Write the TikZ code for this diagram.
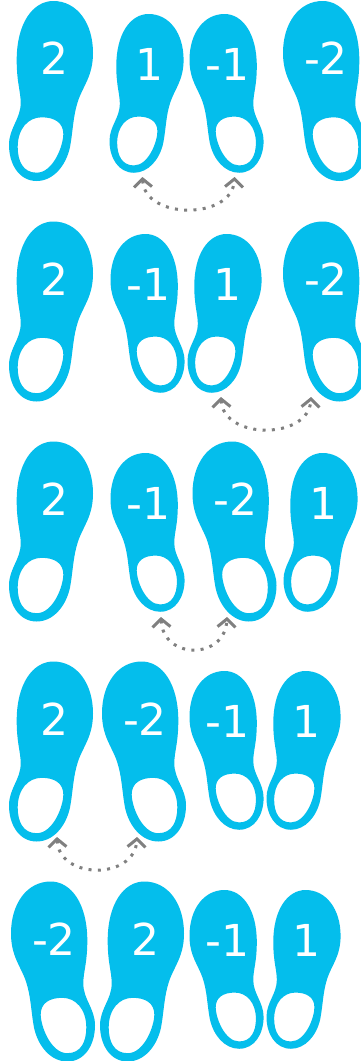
\documentclass[tikz,border=0pt]{standalone}
\usepackage{fontspec}
\setmainfont{DejaVu Sans}
\usetikzlibrary{arrows.meta}
\definecolor{shoeblue}{HTML}{04BEEC}
\definecolor{hopgray}{HTML}{808080}
\tikzset{
  shoefill/.style={fill=shoeblue,even odd rule,draw=none},
  shoelabel/.style={text=white,inner sep=0pt,font=\fontsize{44}{50}\selectfont},
  hop/.style={draw=hopgray,line width=3pt,dash pattern=on 3pt off 6.3pt,
    {Straight Barb[length=8pt,width=18pt,line width=3pt]}-{Straight Barb[length=8pt,width=18pt,line width=3pt]}}
}
\newcommand{\soleoutline}{%
  \path[shoefill]
   (44.3,0) .. controls (68,0) and (84,22) .. (84,52)
   .. controls (84,75) and (74,85) .. (69,100)
   .. controls (64,115) and (64,130) .. (61,146)
   .. controls (57,165) and (44,180) .. (27.7,180)
   .. controls (10,180) and (0,163) .. (0,144)
   .. controls (0,127) and (11.7,118) .. (11.7,102)
   .. controls (11.7,90) and (7.7,82) .. (7.7,59)
   .. controls (7.7,22) and (24,0) .. (44.3,0) -- cycle
   (32.7,116.3) .. controls (46,116.3) and (54.3,122) .. (54.3,133)
   .. controls (54.3,145) and (44,171.7) .. (27.7,171.7)
   .. controls (14,171.7) and (8.7,160) .. (8.7,146)
   .. controls (8.7,128) and (19,116.3) .. (32.7,116.3) -- cycle;}
\newcommand{\rightshoe}[5]{%
  \begin{scope}[shift={(#2,#3)},xscale=#4,yscale=#4]\soleoutline\end{scope}
  \node[shoelabel] (#1) at ({#2+44*#4+1},{#3+58*#4-0.5}) {#5};}
\newcommand{\leftshoe}[5]{%
  \begin{scope}[shift={({#2+84*#4},#3)},xscale=-#4,yscale=#4]\soleoutline\end{scope}
  \node[shoelabel] (#1) at ({#2+42*#4+1},{#3+58*#4-0.5}) {#5};}
\begin{document}
\begin{tikzpicture}[x=1pt,y=-1pt]
\useasboundingbox (0,0) rectangle (361,1061);
\fill[white] (0,0) rectangle (361,1061);
% row 1
\rightshoe{aa}{9}{1}{1}{2}
\rightshoe{ab}{109.5}{14}{0.882}{1}
\leftshoe{ac}{189.5}{14}{0.882}{-1}
\leftshoe{ad}{283}{1}{1}{-2}
% row 2
\rightshoe{ba}{9}{221.5}{1}{2}
\leftshoe{bb}{110.5}{234}{0.882}{-1}
\rightshoe{bc}{187.5}{234}{0.882}{1}
\leftshoe{bd}{283}{221.5}{1}{-2}
% row 3
\rightshoe{ca}{9}{441.5}{1}{2}
\leftshoe{cb}{110.5}{453}{0.882}{-1}
\leftshoe{cc}{192.5}{441.5}{1}{-2}
\rightshoe{cd}{283.5}{453}{0.882}{1}
% row 4
\rightshoe{da}{9}{661.5}{1}{2}
\leftshoe{db}{102}{661.5}{1}{-2}
\leftshoe{dc}{189.5}{671}{0.882}{-1}
\rightshoe{dd}{266.5}{671}{0.882}{1}
% row 5
\leftshoe{ea}{11}{881.5}{1}{-2}
\rightshoe{eb}{100}{881.5}{1}{2}
\leftshoe{ec}{189.5}{890}{0.882}{-1}
\rightshoe{ed}{266.5}{890}{0.882}{1}
% hops
\coordinate (h1a) at (142.5,177);
\coordinate (h1b) at (234.5,177);
\coordinate (h2a) at (221,397);
\coordinate (h2b) at (311,397);
\coordinate (h3a) at (161,617);
\coordinate (h3b) at (227,617);
\coordinate (h4a) at (57,837);
\coordinate (h4b) at (137,837);
\draw[hop] (h1a) .. controls +(2,43) and +(-2,43) .. (h1b);
\draw[hop] (h2a) .. controls +(2,43) and +(-2,43) .. (h2b);
\draw[hop] (h3a) .. controls +(2,43) and +(-2,43) .. (h3b);
\draw[hop] (h4a) .. controls +(2,43) and +(-2,43) .. (h4b);
\end{tikzpicture}
\end{document}
